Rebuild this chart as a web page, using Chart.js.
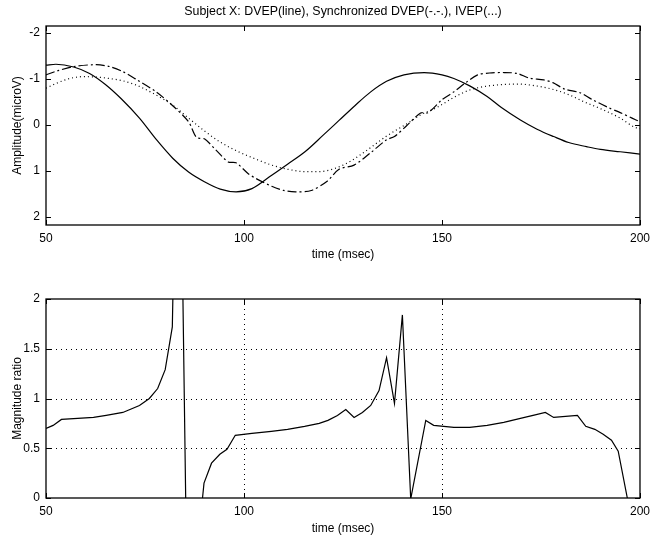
<!DOCTYPE html>
<html>
<head>
<meta charset="utf-8">
<script src="https://cdn.jsdelivr.net/npm/chart.js@4"></script>
<style>
  body { margin: 0; background: #fff; }
  canvas { display: block; }
</style>
</head>
<body>
<canvas id="topChart" width="656" height="270"></canvas>
<canvas id="bottomChart" width="656" height="270"></canvas>
<script>
// values
const titleText = 'Subject X: DVEP(line), Synchronized DVEP(-.-.), IVEP(...)';
const xTicks = [50, 100, 150, 200];
const ampTicks = [-2, -1, 0, 1, 2];
const ratioTicks = [0, 0.5, 1, 1.5, 2];

const dvepTime = [50, 52.5, 57, 61, 65, 69, 73.6, 78, 82, 86, 90, 94, 98, 102, 107, 111, 115.4, 120, 124, 128, 132, 136, 140.4, 145.5, 150, 153, 157, 161.4, 165, 169.8, 174, 178.2, 182, 186.5, 190, 195, 200];
const dvepAmp = [-1.30, -1.32, -1.26, -1.12, -0.88, -0.57, -0.15, 0.33, 0.72, 1.02, 1.23, 1.39, 1.45, 1.38, 1.09, 0.85, 0.58, 0.22, -0.10, -0.42, -0.72, -0.95, -1.09, -1.14, -1.09, -1.01, -0.85, -0.62, -0.38, -0.11, 0.09, 0.25, 0.38, 0.47, 0.53, 0.58, 0.63];

const syncTime = [50, 53, 57, 62.7, 66, 69.4, 73, 77.8, 82, 86, 88, 90, 93, 96, 98, 101, 103, 107, 110, 113, 117, 121, 124, 127.8, 132, 136, 138, 141, 144.6, 146.5, 150, 153, 156, 159, 162, 165.7, 169, 172, 175.7, 178, 181, 184.9, 188, 192, 195, 198, 200];
const syncAmp = [-1.09, -1.18, -1.27, -1.31, -1.27, -1.16, -0.98, -0.72, -0.42, -0.07, 0.27, 0.30, 0.55, 0.80, 0.82, 1.05, 1.16, 1.33, 1.42, 1.45, 1.42, 1.22, 0.96, 0.87, 0.60, 0.32, 0.25, 0.02, -0.26, -0.27, -0.55, -0.72, -0.92, -1.09, -1.13, -1.14, -1.12, -1.02, -0.98, -0.92, -0.78, -0.70, -0.55, -0.38, -0.27, -0.15, -0.07];

const ivepTime = [50, 53, 56, 59.3, 63, 66, 69.4, 73, 77, 82, 86, 90.2, 94, 98.6, 103, 107, 111, 115.4, 119, 123, 127, 131, 136, 141, 144.6, 148.7, 153, 157, 161, 165.7, 169, 173, 178.2, 182, 186, 190.7, 195, 198.5, 200];
const ivepAmp = [-0.80, -0.92, -1.01, -1.05, -1.04, -1.01, -0.96, -0.86, -0.69, -0.43, -0.15, 0.14, 0.37, 0.58, 0.74, 0.87, 0.96, 1.01, 1.01, 0.94, 0.78, 0.55, 0.24, -0.02, -0.22, -0.38, -0.60, -0.76, -0.84, -0.88, -0.89, -0.86, -0.77, -0.66, -0.50, -0.33, -0.15, 0.04, 0.08];

const ratioTime = [50, 51.8, 53.9, 58, 62, 65.2, 69.4, 73.6, 76.1, 78.2, 80.1, 81.9, 83.5, 85.8, 89.9, 91.8, 93.9, 95.7, 97.8, 102, 106.9, 111, 115.3, 119, 121.2, 123.6, 125.7, 127.8, 129.9, 132, 134.1, 136, 138, 140, 142.1, 145.9, 147.9, 153, 157, 161.4, 165.6, 169.8, 173, 176.1, 178.2, 184.2, 186.3, 188.6, 190.7, 192.8, 194.5, 196.8, 199];
const ratio = [0.70, 0.73, 0.79, 0.80, 0.81, 0.83, 0.86, 0.93, 1.00, 1.10, 1.29, 1.72, 5.1, -1.5, 0.15, 0.35, 0.44, 0.49, 0.63, 0.65, 0.67, 0.69, 0.72, 0.75, 0.78, 0.83, 0.89, 0.81, 0.86, 0.93, 1.08, 1.41, 0.95, 1.84, -0.01, 0.78, 0.73, 0.71, 0.71, 0.73, 0.76, 0.80, 0.83, 0.86, 0.81, 0.83, 0.72, 0.69, 0.64, 0.58, 0.47, 0.0, -0.45];

function pts(xs, ys) {
  return xs.map((x, i) => ({ x: x, y: ys[i] }));
}

Chart.defaults.font.family = "'Liberation Sans', Arial, sans-serif";
Chart.defaults.font.size = 12;
Chart.defaults.color = '#000';

// matlab style box, inward ticks, optional dotted grid
const boxPlugin = {
  id: 'box',
  beforeDatasetsDraw(chart, args, opts) {
    if (!opts.grid) return;
    const ctx = chart.ctx, a = chart.chartArea;
    const xs = chart.scales.x, ys = chart.scales.y;
    ctx.save();
    ctx.strokeStyle = '#000';
    ctx.lineWidth = 1;
    ctx.setLineDash([1, 4]);
    xs.ticks.forEach(t => {
      const px = Math.round(xs.getPixelForValue(t.value)) + 0.5;
      if (px < a.left + 2 || px > a.right - 2) return;
      ctx.beginPath(); ctx.moveTo(px, a.top); ctx.lineTo(px, a.bottom); ctx.stroke();
    });
    ys.ticks.forEach(t => {
      const py = Math.round(ys.getPixelForValue(t.value)) + 0.5;
      if (py < a.top + 2 || py > a.bottom - 2) return;
      ctx.beginPath(); ctx.moveTo(a.left, py); ctx.lineTo(a.right, py); ctx.stroke();
    });
    ctx.restore();
  },
  afterDatasetsDraw(chart, args, opts) {
    const ctx = chart.ctx, a = chart.chartArea;
    const xs = chart.scales.x, ys = chart.scales.y;
    const len = 5;
    ctx.save();
    ctx.strokeStyle = '#000';
    ctx.lineWidth = 1.3;
    ctx.strokeRect(a.left, a.top, a.right - a.left, a.bottom - a.top);
    ctx.lineWidth = 1;
    ctx.beginPath();
    xs.ticks.forEach(t => {
      const px = Math.round(xs.getPixelForValue(t.value)) + 0.5;
      ctx.moveTo(px, a.bottom); ctx.lineTo(px, a.bottom - len);
      ctx.moveTo(px, a.top); ctx.lineTo(px, a.top + len);
    });
    ys.ticks.forEach(t => {
      const py = Math.round(ys.getPixelForValue(t.value)) + 0.5;
      ctx.moveTo(a.left, py); ctx.lineTo(a.left + len, py);
      ctx.moveTo(a.right, py); ctx.lineTo(a.right - len, py);
    });
    ctx.stroke();
    if (opts.title) {
      ctx.fillStyle = '#000';
      ctx.font = "12.4px 'Liberation Sans', Arial, sans-serif";
      ctx.textAlign = 'center';
      ctx.textBaseline = 'middle';
      ctx.fillText(opts.title, (a.left + a.right) / 2, 12);
    }
    ctx.restore();
  }
};

function xAxis(h) {
  return {
    type: 'linear', min: 50, max: 200,
    afterBuildTicks: s => { s.ticks = xTicks.map(v => ({ value: v })); },
    afterFit: s => { s.height = h; },
    grid: { display: false, drawTicks: false },
    border: { display: false },
    ticks: { padding: 6, callback: v => String(v) },
    title: { display: true, text: 'time (msec)' }
  };
}

function yAxis(tickVals, min, max, reverse, label) {
  return {
    type: 'linear', min: min, max: max, reverse: reverse,
    afterBuildTicks: s => { s.ticks = tickVals.map(v => ({ value: v })); },
    afterFit: s => { s.width = 40; },
    grid: { display: false, drawTicks: false },
    border: { display: false },
    ticks: { padding: 6, callback: v => String(v) },
    title: { display: true, text: label }
  };
}

const lineBase = { borderColor: '#000', borderWidth: 1.2, pointRadius: 0, fill: false };

new Chart(document.getElementById('topChart'), {
  type: 'line',
  data: {
    datasets: [
      Object.assign({ label: 'DVEP', data: pts(dvepTime, dvepAmp), cubicInterpolationMode: 'monotone' }, lineBase),
      Object.assign({ label: 'Synchronized DVEP', data: pts(syncTime, syncAmp), tension: 0.3, borderDash: [9, 3, 2, 3] }, lineBase),
      Object.assign({ label: 'IVEP', data: pts(ivepTime, ivepAmp), cubicInterpolationMode: 'monotone', borderDash: [1, 3] }, lineBase)
    ]
  },
  options: {
    responsive: false,
    animation: false,
    layout: { padding: { top: 26, left: 6, right: 12, bottom: 4 } },
    plugins: { legend: { display: false }, tooltip: { enabled: false }, box: { title: titleText } },
    scales: {
      x: xAxis(41),
      y: yAxis(ampTicks, -2.15, 2.17, true, 'Amplitude(microV)')
    }
  },
  plugins: [boxPlugin]
});

new Chart(document.getElementById('bottomChart'), {
  type: 'line',
  data: {
    datasets: [
      Object.assign({ label: 'Magnitude ratio', data: pts(ratioTime, ratio), tension: 0 }, lineBase)
    ]
  },
  options: {
    responsive: false,
    animation: false,
    layout: { padding: { top: 29, left: 6, right: 12, bottom: 0 } },
    plugins: { legend: { display: false }, tooltip: { enabled: false }, box: { grid: true } },
    scales: {
      x: xAxis(42),
      y: yAxis(ratioTicks, 0, 2, false, 'Magnitude ratio')
    }
  },
  plugins: [boxPlugin]
});
</script>
</body>
</html>
